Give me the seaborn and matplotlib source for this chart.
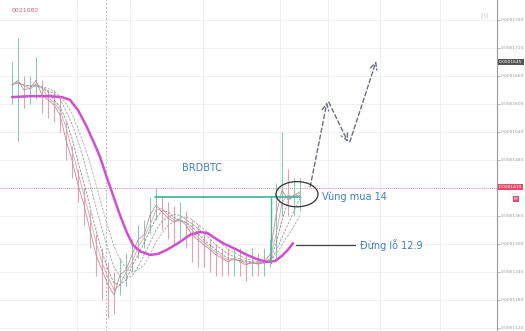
import numpy as np
import pandas as pd
import matplotlib
matplotlib.use("Agg")
import matplotlib.pyplot as plt
import seaborn as sns
from matplotlib.patches import Ellipse

# ---------------- data ----------------
close = [16.40, 16.50, 16.29, 16.33, 16.50, 16.18, 16.08, 15.97, 15.76, 15.22,
         14.79, 14.26, 13.83, 13.29, 12.76, 12.44, 12.12, 11.90, 12.33, 12.44,
         12.76, 13.08, 13.19, 13.61, 13.83, 13.68, 13.55, 13.46, 13.51, 13.40,
         13.19, 13.08, 12.97, 12.87, 12.76, 12.69, 12.61, 12.69, 12.61, 12.54,
         12.61, 12.56, 12.61, 12.76, 13.61, 14.15, 13.94, 14.04, 14.11]
highs = [16.9, 17.4, 16.6, 16.6, 17.0, 16.5, 16.3, 16.3, 16.1, 15.6,
         15.1, 14.6, 14.2, 13.7, 13.2, 12.9, 12.6, 12.4, 12.7, 12.8,
         13.1, 13.4, 13.5, 14.0, 14.2, 14.0, 13.9, 13.8, 13.9, 13.7,
         13.5, 13.4, 13.2, 13.1, 13.0, 12.9, 12.9, 12.9, 12.9, 12.8,
         12.9, 12.8, 12.9, 13.1, 14.3, 15.4, 14.6, 14.4, 14.4]
lows = [16.0, 15.2, 15.9, 16.0, 16.1, 15.8, 15.7, 15.6, 15.4, 14.8,
        14.4, 13.9, 13.4, 12.9, 12.3, 11.8, 11.4, 11.5, 11.9, 12.1,
        12.4, 12.7, 12.9, 13.2, 13.5, 13.3, 13.1, 13.0, 13.1, 12.9,
        12.6, 12.5, 12.5, 12.4, 12.3, 12.3, 12.3, 12.3, 12.3, 12.2,
        12.3, 12.3, 12.3, 12.5, 12.6, 13.6, 13.6, 13.6, 13.7]
slow_ma_idx = [0, 3.0, 6.33, 8.33, 9.67, 11.0, 12.33, 13.67, 14.67, 15.83,
               17.0, 18.0, 19.17, 20.17, 21.33, 23.0, 24.33, 25.83, 27.67, 29.67,
               31.33, 32.5, 33.83, 35.17, 37.17, 39.17, 40.83, 42.5, 43.83, 45.0,
               46.0, 46.83]
slow_ma = [16.14, 16.16, 16.16, 16.14, 16.08, 15.86, 15.54, 15.16, 14.86, 14.41,
           13.98, 13.61, 13.23, 12.97, 12.84, 12.76, 12.78, 12.87, 13.01, 13.19,
           13.25, 13.23, 13.12, 13.01, 12.89, 12.76, 12.67, 12.61, 12.63, 12.74,
           12.87, 13.01]
forecast_idx = [49.7, 52.5, 56.0, 60.7]
forecast = [14.22, 16.03, 15.18, 16.91]
buy_zone = 14.0
stop_loss = 12.97
last_price = 14.19
high_tag = 16.45
tick_values = [11.2, 11.8, 12.4, 13.0, 13.6, 14.2, 14.8, 15.4, 16.0, 16.6, 17.2, 17.8]
symbol = "BRDBTC"
buy_label = "Vùng mua 14"
stop_label = "Đừng lỗ 12.9"
header = "0021082"

# ---------------- figure ----------------
sns.set_theme(style="white")
plt.rcParams['font.family'] = ['DejaVu Sans']
fig = plt.figure(figsize=(5.25, 3.31), dpi=100)
ax = fig.add_axes([0, 0, 497 / 525, 1])

idx = np.arange(len(close))
df = pd.DataFrame({"i": idx, "close": close, "high": highs, "low": lows})

ax.set_xlim(-2, (497 - 12) / 6)
ax.set_ylim(11.13, 18.22)

# grid
for v in tick_values:
    ax.axhline(v, color="#efefef", lw=0.6, zorder=0)
for px in [77, 130, 203, 280, 328, 380, 440]:
    ax.axvline((px - 12) / 6, color="#efefef", lw=0.6, zorder=0)
ax.axvline((106 - 12) / 6, color="#b8b8b8", lw=0.7, ls=(0, (2, 2)), zorder=1)

# wicks
prev = [close[0]] + close[:-1]
cols = ["#86c9b8" if c >= p else "#e4a2ad" for c, p in zip(close, prev)]
ax.vlines(idx, lows, highs, colors=cols, lw=0.8, zorder=2)

# moving averages (thin, dashed)
for w, c, dash in [(2, "#d9a4ac", None), (3, "#8e8e8e", (3, 1.5)),
                   (5, "#9e9e9e", (3, 1.5)), (7, "#acacac", (3, 1.5))]:
    df[f"ma{w}"] = df["close"].rolling(w, min_periods=1).mean()
    sns.lineplot(data=df, x="i", y=f"ma{w}", ax=ax, color=c, lw=0.6, zorder=3)
    if dash:
        ax.lines[-1].set_dashes(dash)
sns.lineplot(data=df, x="i", y="close", ax=ax, color="#bf909b", lw=0.6, zorder=3)

# slow MA (magenta)
sns.lineplot(x=slow_ma_idx, y=slow_ma, ax=ax, color="#d24fd0", lw=1.8, zorder=4)

# buy zone teal lines
ax.plot([23.8, 48], [buy_zone, buy_zone], color="#4bb89e", lw=1.3, zorder=4)
ax.plot([43.2, 43.2], [buy_zone, 12.59], color="#4bb89e", lw=1.0, zorder=4)

# last price red dotted
ax.axhline(last_price, color="#e07080", lw=0.6, ls=(0, (1, 1.5)), zorder=1)

# ellipse
ax.add_patch(Ellipse((47.5, 14.06), 7.0, 0.54, fill=False, ec="#333333", lw=0.9, zorder=6))

# forecast arrows
for k in range(len(forecast) - 1):
    ax.annotate("", xy=(forecast_idx[k + 1], forecast[k + 1]),
                xytext=(forecast_idx[k] + (0.3 if k else 0), forecast[k]),
                arrowprops=dict(arrowstyle="->", color="#6a6f80", lw=1.0,
                                linestyle=(0, (3, 2)), shrinkA=0, shrinkB=0),
                zorder=5)

# stop line
ax.plot([47.3, 57.2], [stop_loss, stop_loss], color="#444444", lw=0.9, zorder=5)

# texts
ax.text(28.3, 14.62, symbol, color="#3f7fc4", fontsize=7, va="center", ha="left")
ax.text(51.6, buy_zone, buy_label, color="#3f7fc4", fontsize=7, va="center", ha="left")
ax.text(58.0, stop_loss, stop_label, color="#3f7fc4", fontsize=7, va="center", ha="left")
fig.text(12 / 525, 1 - 10 / 331, header, color="#e0607a", fontsize=4.5, va="center")

# right axis (the last-price tag replaces the 14.2 label)
ax.yaxis.tick_right()
ax.set_yticks(tick_values)
ax.set_yticklabels(["" if abs(v - last_price) < 0.1 else f"{v / 1e5:.7f}" for v in tick_values],
                   fontsize=3.2, color="#999999")
ax.tick_params(axis="y", length=2, width=0.5, colors="#999999", pad=1)
ax.set_xticks([])
ax.set_xlabel("")
ax.set_ylabel("")
for s in ["left", "top", "bottom"]:
    ax.spines[s].set_visible(False)
ax.spines["right"].set_color("#9a9a9a")
ax.spines["right"].set_linewidth(0.8)

# price tags on the axis
fig.text(499 / 525, 1 - 187 / 331, f"{last_price / 1e5:.7f}", fontsize=3.2, color="white",
         va="center", ha="left", bbox=dict(boxstyle="square,pad=0.25", fc="#e84a6a", ec="none"))
fig.text(514 / 525, 1 - 199 / 331, "EX", fontsize=2.6, color="white",
         va="center", ha="left", bbox=dict(boxstyle="square,pad=0.2", fc="#e84a6a", ec="none"))
fig.text(499 / 525, 1 - 62 / 331, f"{high_tag / 1e5:.7f}", fontsize=3.2, color="white",
         va="center", ha="left", bbox=dict(boxstyle="square,pad=0.3", fc="#555555", ec="none"))
fig.text(480 / 525, 1 - 15 / 331, "|||||", fontsize=3.5, color="#cccccc", va="center", ha="left")

fig.savefig("out.png", dpi=100)
